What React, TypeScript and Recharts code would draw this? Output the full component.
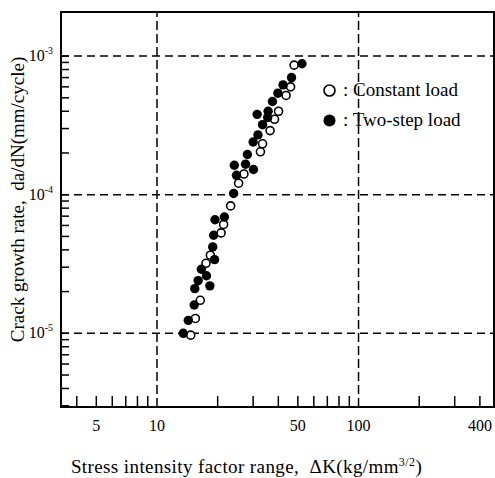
import { ScatterChart, Scatter, XAxis, YAxis, ReferenceLine, ReferenceArea, Legend, Label } from "recharts";

// ΔK (kg/mm^3/2) vs da/dN (mm/cycle)
const constantLoad = [
  { dk: 14.7, rate: 9.7e-6 },
  { dk: 15.5, rate: 1.28e-5 },
  { dk: 16.4, rate: 1.73e-5 },
  { dk: 17.5, rate: 3.2e-5 },
  { dk: 18.4, rate: 3.66e-5 },
  { dk: 20.8, rate: 5.3e-5 },
  { dk: 21.4, rate: 6.1e-5 },
  { dk: 23.2, rate: 8.3e-5 },
  { dk: 25.4, rate: 1.21e-4 },
  { dk: 27.0, rate: 1.41e-4 },
  { dk: 32.6, rate: 2.04e-4 },
  { dk: 33.4, rate: 2.33e-4 },
  { dk: 36.4, rate: 2.9e-4 },
  { dk: 38.3, rate: 3.5e-4 },
  { dk: 40.1, rate: 4.0e-4 },
  { dk: 43.7, rate: 5.2e-4 },
  { dk: 46.0, rate: 6.0e-4 },
  { dk: 47.9, rate: 8.6e-4 },
];

const twoStepLoad = [
  { dk: 13.5, rate: 1.0e-5 },
  { dk: 14.3, rate: 1.24e-5 },
  { dk: 15.3, rate: 1.6e-5 },
  { dk: 15.4, rate: 2.1e-5 },
  { dk: 16.0, rate: 2.4e-5 },
  { dk: 16.6, rate: 2.9e-5 },
  { dk: 17.6, rate: 2.6e-5 },
  { dk: 18.3, rate: 2.2e-5 },
  { dk: 18.9, rate: 4.2e-5 },
  { dk: 19.1, rate: 5.1e-5 },
  { dk: 19.4, rate: 6.6e-5 },
  { dk: 19.3, rate: 3.4e-5 },
  { dk: 21.6, rate: 6.9e-5 },
  { dk: 24.0, rate: 1.02e-4 },
  { dk: 24.2, rate: 1.63e-4 },
  { dk: 24.8, rate: 1.38e-4 },
  { dk: 27.5, rate: 1.66e-4 },
  { dk: 28.1, rate: 1.95e-4 },
  { dk: 30.1, rate: 1.52e-4 },
  { dk: 30.0, rate: 2.4e-4 },
  { dk: 31.7, rate: 2.7e-4 },
  { dk: 31.4, rate: 3.8e-4 },
  { dk: 33.4, rate: 3.2e-4 },
  { dk: 35.4, rate: 3.6e-4 },
  { dk: 35.6, rate: 4.0e-4 },
  { dk: 37.4, rate: 4.7e-4 },
  { dk: 39.8, rate: 5.4e-4 },
  { dk: 42.2, rate: 6.2e-4 },
  { dk: 46.5, rate: 7.0e-4 },
  { dk: 52.4, rate: 8.8e-4 },
];

const xTicks = [4, 5, 6, 7, 8, 9, 10, 20, 30, 40, 50, 60, 70, 80, 90, 100, 200, 300, 400];
const xTickLabels = [5, 10, 50, 100, 400];
const yTicks = [
  3e-6, 4e-6, 5e-6, 6e-6, 7e-6, 8e-6, 9e-6, 1e-5,
  2e-5, 3e-5, 4e-5, 5e-5, 6e-5, 7e-5, 8e-5, 9e-5, 1e-4,
  2e-4, 3e-4, 4e-4, 5e-4, 6e-4, 7e-4, 8e-4, 9e-4, 1e-3,
];
const xGrid = [10, 100];
const yGrid = [1e-5, 1e-4, 1e-3];
const xDomain = [3.34, 470];
const yDomain = [2.94e-6, 2.08e-3];

const FONT = "'Liberation Serif', 'DejaVu Serif', serif";

const XTick = ({ x, y, payload }: any) => {
  const v = payload.value;
  return (
    <g>
      {!xGrid.includes(v) && (
        <line x1={x} x2={x} y1={y} y2={y - 11} stroke="#000" strokeWidth={1.5} />
      )}
      {xTickLabels.includes(v) && (
        <text x={x} y={y + 24} textAnchor="middle" fontSize={16} fontFamily={FONT} fill="#000">
          {v}
        </text>
      )}
    </g>
  );
};

const YTick = ({ x, y, payload }: any) => {
  const v = payload.value;
  const isDecade = yGrid.includes(v);
  return (
    <g>
      <line x1={x} x2={x + 8} y1={y} y2={y} stroke="#000" strokeWidth={1.5} />
      {isDecade && (
        <text x={x - 8} y={y + 5} textAnchor="end" fontSize={16} fontFamily={FONT} fill="#000">
          10
          <tspan dy={-7} fontSize={10}>
            {Math.round(Math.log10(v))}
          </tspan>
        </text>
      )}
    </g>
  );
};

const LegendBox = () => (
  <div style={{ fontFamily: FONT, fontSize: 19, color: "#000", lineHeight: "30px" }}>
    <div style={{ display: "flex", alignItems: "center" }}>
      <svg width={15} height={15}>
        <circle cx={7.5} cy={7.5} r={5.5} fill="#fff" stroke="#000" strokeWidth={1.6} />
      </svg>
      <span style={{ marginLeft: 6 }}>: Constant load</span>
    </div>
    <div style={{ display: "flex", alignItems: "center" }}>
      <svg width={15} height={15}>
        <circle cx={7.5} cy={7.5} r={6} fill="#000" />
      </svg>
      <span style={{ marginLeft: 6 }}>: Two-step load</span>
    </div>
  </div>
);

export default function App() {
  return (
    <div style={{ position: "absolute", left: 0, top: 0, background: "#fff" }}>
      <ScatterChart width={495} height={478} margin={{ top: 12, right: 1, bottom: 0, left: 0 }}>
        <XAxis
          type="number"
          dataKey="dk"
          scale="log"
          domain={xDomain}
          allowDataOverflow
          ticks={xTicks}
          interval={0}
          tickSize={0}
          tickMargin={0}
          axisLine={false}
          tickLine={false}
          tick={<XTick />}
          height={71}
        >
          <Label
            content={({ viewBox }: any) => (
              <text
                x={viewBox.x + viewBox.width / 2 - 31}
                y={viewBox.y + 66}
                textAnchor="middle"
                fontSize={19}
                fontFamily={FONT}
                fill="#000"
                letterSpacing={0.4}
              >
                Stress intensity factor range,{"\u00a0\u00a0"}ΔK(kg/mm
                <tspan dy={-7} fontSize={12}>
                  3/2
                </tspan>
                <tspan dy={7}>)</tspan>
              </text>
            )}
          />
        </XAxis>
        <YAxis
          type="number"
          dataKey="rate"
          scale="log"
          domain={yDomain}
          allowDataOverflow
          ticks={yTicks}
          interval={0}
          tickSize={0}
          tickMargin={0}
          axisLine={false}
          tickLine={false}
          tick={<YTick />}
          width={61}
        >
          <Label
            content={({ viewBox }: any) => {
              const cx = 17;
              const cy = viewBox.y + viewBox.height / 2 - 10;
              return (
                <text
                  x={cx}
                  y={cy}
                  transform={`rotate(-90, ${cx}, ${cy})`}
                  textAnchor="middle"
                  dominantBaseline="central"
                  fontSize={19}
                  fontFamily={FONT}
                  fill="#000"
                >
                  Crack growth rate,{"\u00a0\u00a0"}da/dN(mm/cycle)
                </text>
              );
            }}
          />
        </YAxis>
        {xGrid.map((v) => (
          <ReferenceLine key={`x${v}`} x={v} stroke="#000" strokeWidth={1.5} strokeDasharray="9 4" />
        ))}
        {yGrid.map((v) => (
          <ReferenceLine key={`y${v}`} y={v} stroke="#000" strokeWidth={1.5} strokeDasharray="8 5" />
        ))}
        <ReferenceArea
          x1={xDomain[0]}
          x2={xDomain[1]}
          y1={yDomain[0]}
          y2={yDomain[1]}
          fill="none"
          fillOpacity={0}
          stroke="#000"
          strokeWidth={2}
        />
        <Scatter
          name="Constant load"
          data={constantLoad}
          isAnimationActive={false}
          shape={(p: any) => <circle cx={p.cx} cy={p.cy} r={4} fill="#fff" stroke="#000" strokeWidth={1.6} />}
        />
        <Scatter
          name="Two-step load"
          data={twoStepLoad}
          isAnimationActive={false}
          shape={(p: any) => <circle cx={p.cx} cy={p.cy} r={4.7} fill="#000" />}
        />
        <Legend
          layout="vertical"
          align="center"
          verticalAlign="middle"
          content={<LegendBox />}
          wrapperStyle={{ position: "absolute", top: 75, left: 322, width: "auto" }}
        />
      </ScatterChart>
    </div>
  );
}
